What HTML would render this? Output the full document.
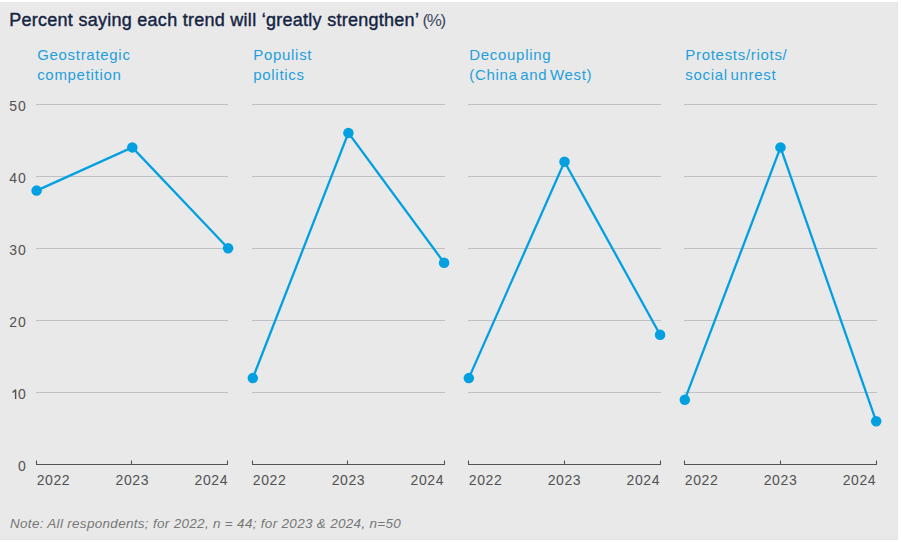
<!DOCTYPE html>
<html><head><meta charset="utf-8"><style>
html,body{margin:0;padding:0;background:#fff;}
body{width:901px;height:542px;position:relative;overflow:hidden;font-family:"Liberation Sans",sans-serif;}
#bg{position:absolute;left:0;top:2px;width:898px;height:538px;background:#e9e9e9;box-sizing:border-box;border-right:1px solid #e4e4e4;border-bottom:1px solid #e4e4e4;}
svg{position:absolute;left:0;top:0;font-family:"Liberation Sans",sans-serif;}
.tt{font-size:18px;letter-spacing:0.27px;fill:#142442;stroke:#142442;stroke-width:0.4px;}
.tp{font-size:17px;letter-spacing:-1.4px;fill:#3e4860;}
.pt{font-size:15px;fill:#1f9fdc;letter-spacing:0.7px;word-spacing:-2.3px;stroke:#1f9fdc;stroke-width:0px;}
.xl{font-size:14px;fill:#525252;letter-spacing:0.6px;}
.yl{font-size:14px;fill:#525252;letter-spacing:0.8px;}
.note{font-size:13.5px;letter-spacing:0.3px;font-style:italic;fill:#777;}
</style></head><body><div id="bg"></div>
<svg width="901" height="542" viewBox="0 0 901 542">
<text x="9.2" y="26"><tspan class="tt">Percent saying each trend will ‘greatly strengthen’</tspan><tspan class="tp"> (%)</tspan></text>
<line x1="36.0" x2="228.0" y1="392.5" y2="392.5" stroke="#bec0c2" stroke-width="1"/>
<line x1="36.0" x2="228.0" y1="320.5" y2="320.5" stroke="#bec0c2" stroke-width="1"/>
<line x1="36.0" x2="228.0" y1="248.5" y2="248.5" stroke="#bec0c2" stroke-width="1"/>
<line x1="36.0" x2="228.0" y1="176.5" y2="176.5" stroke="#bec0c2" stroke-width="1"/>
<line x1="36.0" x2="228.0" y1="104.5" y2="104.5" stroke="#bec0c2" stroke-width="1"/>
<path d="M36.5 460.5 V464.5 M36.0 464.5 H228.0 M227.5 460.5 V464.5 M131.5 460.5 V464.5" fill="none" stroke="#505357" stroke-width="1.1"/>
<polyline points="36.6,190.6 132.3,147.4 228.1,248.3" fill="none" stroke="#02a0e1" stroke-width="2.3"/>
<circle cx="36.6" cy="190.6" r="5.25" fill="#02a0e1"/>
<circle cx="132.3" cy="147.4" r="5.25" fill="#02a0e1"/>
<circle cx="228.1" cy="248.3" r="5.25" fill="#02a0e1"/>
<text class="pt" x="37.15" y="60">Geostrategic</text>
<text class="pt" x="37.15" y="80">competition</text>
<text class="xl" x="36.65" y="485">2022</text>
<text class="xl" x="132.35" y="485" text-anchor="middle">2023</text>
<text class="xl" x="228.05" y="485" text-anchor="end">2024</text>
<line x1="252.0" x2="445.0" y1="392.5" y2="392.5" stroke="#bec0c2" stroke-width="1"/>
<line x1="252.0" x2="445.0" y1="320.5" y2="320.5" stroke="#bec0c2" stroke-width="1"/>
<line x1="252.0" x2="445.0" y1="248.5" y2="248.5" stroke="#bec0c2" stroke-width="1"/>
<line x1="252.0" x2="445.0" y1="176.5" y2="176.5" stroke="#bec0c2" stroke-width="1"/>
<line x1="252.0" x2="445.0" y1="104.5" y2="104.5" stroke="#bec0c2" stroke-width="1"/>
<path d="M252.5 460.5 V464.5 M252.0 464.5 H445.0 M444.5 460.5 V464.5 M347.5 460.5 V464.5" fill="none" stroke="#505357" stroke-width="1.1"/>
<polyline points="252.8,378.1 348.4,132.9 444.1,262.7" fill="none" stroke="#02a0e1" stroke-width="2.3"/>
<circle cx="252.8" cy="378.1" r="5.25" fill="#02a0e1"/>
<circle cx="348.4" cy="132.9" r="5.25" fill="#02a0e1"/>
<circle cx="444.1" cy="262.7" r="5.25" fill="#02a0e1"/>
<text class="pt" x="253.25" y="60">Populist</text>
<text class="pt" x="253.25" y="80">politics</text>
<text class="xl" x="252.75" y="485">2022</text>
<text class="xl" x="348.45" y="485" text-anchor="middle">2023</text>
<text class="xl" x="444.15" y="485" text-anchor="end">2024</text>
<line x1="468.0" x2="661.0" y1="392.5" y2="392.5" stroke="#bec0c2" stroke-width="1"/>
<line x1="468.0" x2="661.0" y1="320.5" y2="320.5" stroke="#bec0c2" stroke-width="1"/>
<line x1="468.0" x2="661.0" y1="248.5" y2="248.5" stroke="#bec0c2" stroke-width="1"/>
<line x1="468.0" x2="661.0" y1="176.5" y2="176.5" stroke="#bec0c2" stroke-width="1"/>
<line x1="468.0" x2="661.0" y1="104.5" y2="104.5" stroke="#bec0c2" stroke-width="1"/>
<path d="M468.5 460.5 V464.5 M468.0 464.5 H661.0 M660.5 460.5 V464.5 M564.5 460.5 V464.5" fill="none" stroke="#505357" stroke-width="1.1"/>
<polyline points="468.8,378.1 564.5,161.8 660.1,334.8" fill="none" stroke="#02a0e1" stroke-width="2.3"/>
<circle cx="468.8" cy="378.1" r="5.25" fill="#02a0e1"/>
<circle cx="564.5" cy="161.8" r="5.25" fill="#02a0e1"/>
<circle cx="660.1" cy="334.8" r="5.25" fill="#02a0e1"/>
<text class="pt" x="469.25" y="60">Decoupling</text>
<text class="pt" x="469.25" y="80">(China and West)</text>
<text class="xl" x="468.75" y="485">2022</text>
<text class="xl" x="564.45" y="485" text-anchor="middle">2023</text>
<text class="xl" x="660.15" y="485" text-anchor="end">2024</text>
<line x1="684.0" x2="877.0" y1="392.5" y2="392.5" stroke="#bec0c2" stroke-width="1"/>
<line x1="684.0" x2="877.0" y1="320.5" y2="320.5" stroke="#bec0c2" stroke-width="1"/>
<line x1="684.0" x2="877.0" y1="248.5" y2="248.5" stroke="#bec0c2" stroke-width="1"/>
<line x1="684.0" x2="877.0" y1="176.5" y2="176.5" stroke="#bec0c2" stroke-width="1"/>
<line x1="684.0" x2="877.0" y1="104.5" y2="104.5" stroke="#bec0c2" stroke-width="1"/>
<path d="M684.5 460.5 V464.5 M684.0 464.5 H877.0 M876.5 460.5 V464.5 M780.5 460.5 V464.5" fill="none" stroke="#505357" stroke-width="1.1"/>
<polyline points="684.8,399.7 780.5,147.4 876.2,421.3" fill="none" stroke="#02a0e1" stroke-width="2.3"/>
<circle cx="684.8" cy="399.7" r="5.25" fill="#02a0e1"/>
<circle cx="780.5" cy="147.4" r="5.25" fill="#02a0e1"/>
<circle cx="876.2" cy="421.3" r="5.25" fill="#02a0e1"/>
<text class="pt" x="685.3" y="60">Protests/riots/</text>
<text class="pt" x="685.3" y="80">social unrest</text>
<text class="xl" x="684.8" y="485">2022</text>
<text class="xl" x="780.5" y="485" text-anchor="middle">2023</text>
<text class="xl" x="876.1999999999999" y="485" text-anchor="end">2024</text>
<text class="yl" x="26.5" y="471.1" text-anchor="end">0</text>
<text class="yl" x="26.5" y="399.0" text-anchor="end">0</text>
<path d="M12.6 392.5 L15.6 389.7 V399.0" fill="none" stroke="#525252" stroke-width="1.4" stroke-linejoin="bevel"/>
<text class="yl" x="26.5" y="326.9" text-anchor="end">20</text>
<text class="yl" x="26.5" y="254.8" text-anchor="end">30</text>
<text class="yl" x="26.5" y="182.7" text-anchor="end">40</text>
<text class="yl" x="26.5" y="110.6" text-anchor="end">50</text>
<text class="note" x="10" y="528">Note: All respondents; for 2022, n = 44; for 2023 &amp; 2024, n=50</text>
</svg></body></html>
